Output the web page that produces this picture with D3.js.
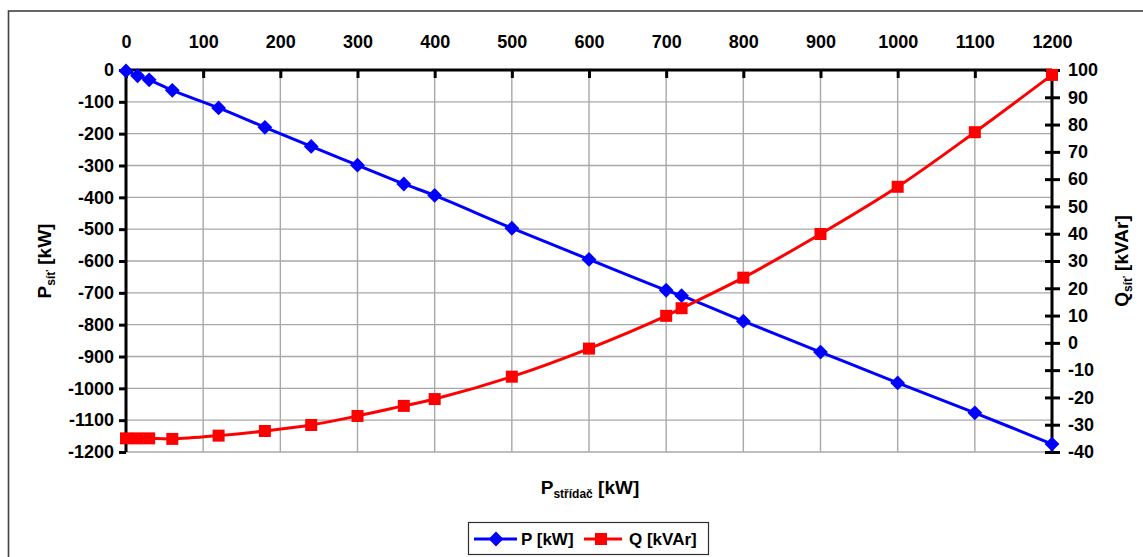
<!DOCTYPE html>
<html><head><meta charset="utf-8">
<script src="https://cdn.jsdelivr.net/npm/d3@7"></script>
<style>
html,body{margin:0;padding:0;background:#fff;}
svg{display:block;font-family:"Liberation Sans",Arial,sans-serif;font-weight:bold;}
</style></head>
<body>
<svg id="c" width="1143" height="557"></svg>
<script>
const xValues = [0, 15, 30, 60, 120, 180, 240, 300, 360, 400, 500, 600, 700, 720, 800, 900, 1000, 1100, 1200];
const pValues = [-3, -18, -31, -64, -119, -180, -240, -299, -358, -394, -497, -595, -692, -709, -789, -886, -983, -1077, -1175];
const qValues = [-35, -35, -35, -35.2, -34, -32.3, -30.1, -26.8, -23.1, -20.6, -12.4, -2.1, 9.9, 12.7, 23.9, 39.9, 57.2, 77.2, 98.2];
const xTicks = [0,100,200,300,400,500,600,700,800,900,1000,1100,1200];
const pTicks = [0,-100,-200,-300,-400,-500,-600,-700,-800,-900,-1000,-1100,-1200];
const qTicks = [100,90,80,70,60,50,40,30,20,10,0,-10,-20,-30,-40];
const seriesNames = ["P [kW]", "Q [kVAr]"];

const svg = d3.select("#c");
const L = 126, R = 1052, T = 70, B = 452;
const x = d3.scaleLinear().domain([0,1200]).range([L,R]);
const yP = d3.scaleLinear().domain([-1200,0]).range([B,T]);
const yQ = d3.scaleLinear().domain([-40,100]).range([B,T]);

// outer border
svg.append("rect").attr("x",8.5).attr("y",11).attr("width",1300).attr("height",700)
  .attr("fill","none").attr("stroke","#404040").attr("stroke-width",1.6);

// gridlines
const grid = svg.append("g").attr("stroke","#a8a8a8").attr("stroke-width",1.4);
xTicks.forEach(v=>grid.append("line").attr("x1",x(v)).attr("x2",x(v)).attr("y1",T).attr("y2",B));
pTicks.forEach(v=>grid.append("line").attr("x1",L).attr("x2",R).attr("y1",yP(v)).attr("y2",yP(v)));

const fmt = d => d3.format("d")(d).replace("−","-");

// top axis
const gx = svg.append("g").attr("transform",`translate(0,${T})`)
  .call(d3.axisTop(x).tickValues(xTicks).tickSize(-8).tickPadding(22).tickFormat(fmt));
// left axis
const gy = svg.append("g").attr("transform",`translate(${L},0)`)
  .call(d3.axisLeft(yP).tickValues(pTicks).tickSize(7).tickPadding(5).tickFormat(fmt));
// right axis
const gr = svg.append("g").attr("transform",`translate(${R},0)`)
  .call(d3.axisRight(yQ).tickValues(qTicks).tickSize(8).tickPadding(8).tickFormat(fmt));
gr.selectAll(".tick line").attr("x1",-7);

[gx,gy,gr].forEach(g=>{
  g.select(".domain").attr("stroke","#000").attr("stroke-width",3);
  g.selectAll(".tick line").attr("stroke","#000").attr("stroke-width",3);
  g.selectAll(".tick text").attr("fill","#000").style("font-size","18px").style("font-weight","bold")
   .style("font-family","'Liberation Sans',Arial,sans-serif");
});
gx.select(".domain").attr("d",`M${L},0H${R}`);
gy.select(".domain").attr("d",`M0,${T}V${B}`);
gr.select(".domain").attr("d",`M0,${T}V${B}`);

// lines
const lineP = d3.line().x((d,i)=>x(xValues[i])).y(d=>yP(d)).curve(d3.curveCatmullRom.alpha(0.5));
const lineQ = d3.line().x((d,i)=>x(xValues[i])).y(d=>yQ(d)).curve(d3.curveCatmullRom.alpha(0.5));
svg.append("path").datum(pValues).attr("d",lineP).attr("fill","none").attr("stroke","#0000ff").attr("stroke-width",3);
svg.append("path").datum(qValues).attr("d",lineQ).attr("fill","none").attr("stroke","#ff0000").attr("stroke-width",3);

const diamond = d3.symbol().type(d3.symbolSquare).size(110);
svg.append("g").selectAll("path").data(pValues).join("path")
  .attr("d",diamond).attr("fill","#0000ff")
  .attr("transform",(d,i)=>`translate(${x(xValues[i])},${yP(d)}) rotate(45)`);
svg.append("g").selectAll("rect").data(qValues).join("rect")
  .attr("x",(d,i)=>x(xValues[i])-6).attr("y",d=>yQ(d)-6).attr("width",12).attr("height",12).attr("fill","#ff0000");

// axis titles
const tl = svg.append("text").attr("transform","translate(51,261) rotate(-90)")
  .attr("text-anchor","middle").style("font-size","19px");
tl.append("tspan").text("P");
tl.append("tspan").attr("dy",4).style("font-size","12px").text("síť");
tl.append("tspan").attr("dy",-4).text(" [kW]");

const tr = svg.append("text").attr("transform","translate(1128,261) rotate(-90)")
  .attr("text-anchor","middle").style("font-size","19px");
tr.append("tspan").text("Q");
tr.append("tspan").attr("dy",4).style("font-size","12px").text("síť");
tr.append("tspan").attr("dy",-4).text(" [kVAr]");

const tb = svg.append("text").attr("x",590).attr("y",494).attr("text-anchor","middle").style("font-size","19px");
tb.append("tspan").text("P");
tb.append("tspan").attr("dy",4).style("font-size","12px").text("střídač");
tb.append("tspan").attr("dy",-4).text(" [kW]");

// legend
const lg = svg.append("g");
lg.append("rect").attr("x",468.5).attr("y",522.5).attr("width",240).attr("height",32)
  .attr("fill","#fff").attr("stroke","#303030").attr("stroke-width",1.2);
lg.append("line").attr("x1",474).attr("x2",517).attr("y1",539).attr("y2",539).attr("stroke","#0000ff").attr("stroke-width",3);
lg.append("path").attr("d",diamond).attr("fill","#0000ff").attr("transform","translate(496,539) rotate(45)");
lg.append("text").attr("x",521).attr("y",545).style("font-size","17px").text(seriesNames[0]);
lg.append("line").attr("x1",584).attr("x2",622).attr("y1",539).attr("y2",539).attr("stroke","#ff0000").attr("stroke-width",3);
lg.append("rect").attr("x",595).attr("y",533).attr("width",12).attr("height",12).attr("fill","#ff0000");
lg.append("text").attr("x",629).attr("y",545).style("font-size","17px").text(seriesNames[1]);
</script>
</body></html>
